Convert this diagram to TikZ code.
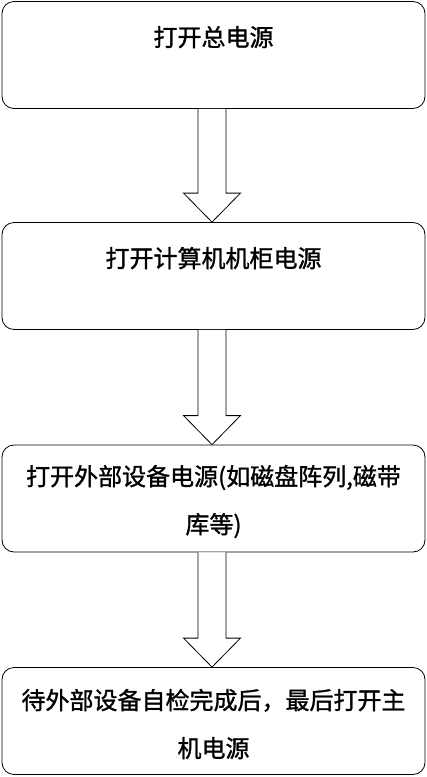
\documentclass[tikz,border=0pt]{standalone}
\usepackage{fontspec}
\newfontfamily\cjk[FakeBold=1.2]{Noto Sans CJK SC}
\usetikzlibrary{calc, positioning}
\tikzset{stepbox/.style={draw=black, line width=0.8pt, rounded corners=12pt,
    minimum width=423pt, minimum height=107pt, inner sep=0pt}}
\tikzset{steptext/.style={align=center, inner sep=0pt,
    font=\cjk\fontsize{24pt}{48pt}\selectfont}}
\tikzset{blockarrow/.style={draw=black, line width=0.8pt, fill=white}}

\begin{document}
\begin{tikzpicture}[x=1pt, y=1pt]
  \useasboundingbox (0,0) rectangle (427,-777);

  \node[stepbox] (s1) at (213.5,-55) {};
  \node[stepbox] (s2) at (213.5,-276) {};
  \node[stepbox] (s3) at (213.5,-498.5) {};
  \node[stepbox] (s4) at (213.5,-721) {};

  \node[steptext] (t1) at ($(s1.north)+(0,-36)$) {打开总电源};
  \node[steptext] (t2) at ($(s2.north)+(0,-36)$) {打开计算机机柜电源};
  \node[steptext] (t3) at ($(s3.center)+(0,-3)$) {打开外部设备电源(如磁盘阵列,磁带\\库等)};
  \node[steptext] (t4) at ($(s4.center)+(0,-3)$) {待外部设备自检完成后，最后打开主\\机电源};

  \foreach \a/\b in {s1/s2, s2/s3, s3/s4}
    \draw[blockarrow] ($(\a.south)+(-15.5,0)$) -- ($(\b.north)+(-15.5,29)$)
      -- ($(\b.north)+(-30,29)$) -- ($(\b.north)+(-1.5,0)$) -- ($(\b.north)+(27,29)$)
      -- ($(\b.north)+(12.5,29)$) -- ($(\a.south)+(12.5,0)$);
\end{tikzpicture}
\end{document}
